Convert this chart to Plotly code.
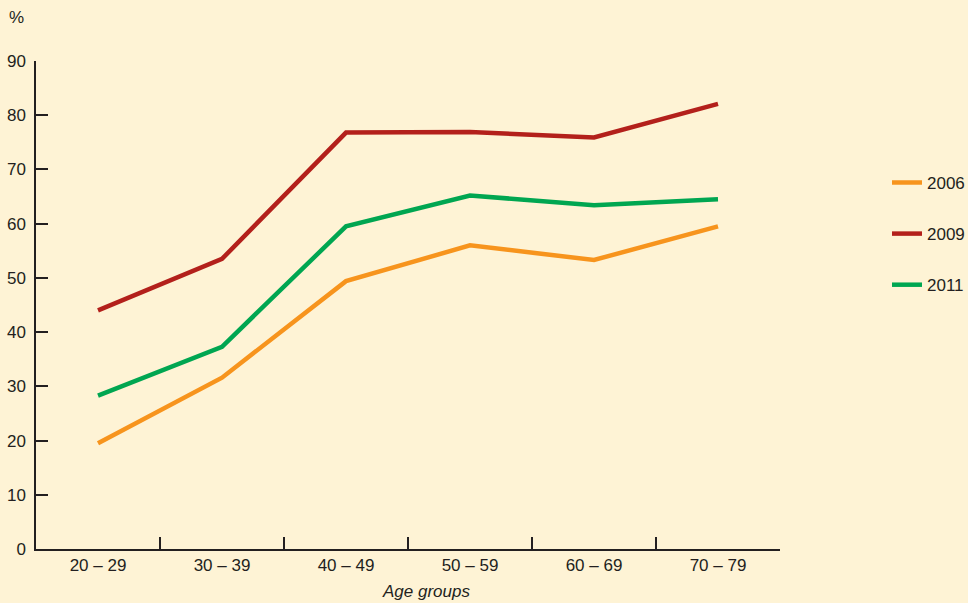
import plotly.graph_objects as go

age_groups = ["20 – 29", "30 – 39", "40 – 49", "50 – 59", "60 – 69", "70 – 79"]
share_2006 = [19.5, 31.6, 49.4, 56.0, 53.3, 59.5]
share_2009 = [44.0, 53.5, 76.8, 76.9, 75.9, 82.1]
share_2011 = [28.3, 37.3, 59.5, 65.2, 63.4, 64.5]

series = [
    ("2006", share_2006, "#F7941D"),
    ("2009", share_2009, "#B3201B"),
    ("2011", share_2011, "#00A651"),
]

FONT = "Liberation Sans, Arial, sans-serif"
INK = "#231F20"
BG = "#FEF3D5"
SIZE = 17

fig = go.Figure()
for i, (name, vals, color) in enumerate(series):
    fig.add_trace(go.Scatter(
        x=age_groups, y=vals, name=name, mode="lines",
        line=dict(color=color, width=4.5),
        legendgroup=f"g{i}",
    ))

fig.update_layout(
    width=968, height=603,
    paper_bgcolor=BG, plot_bgcolor=BG,
    margin=dict(l=36, r=188, t=61, b=54, autoexpand=False),
    font=dict(family=FONT, size=SIZE, color=INK),
    showlegend=True,
    legend=dict(
        x=1.1438, xanchor="left", y=0.787, yanchor="top",
        bgcolor="rgba(0,0,0,0)", tracegroupgap=26,
        font=dict(family=FONT, size=SIZE, color=INK),
    ),
    xaxis=dict(
        type="category", range=[-0.5, 5.5], automargin=False,
        showline=True, linecolor=INK, linewidth=1.5,
        ticks="inside", tickson="boundaries", ticklen=12,
        tickcolor=INK, tickwidth=1.5,
        showgrid=False, zeroline=False,
    ),
    yaxis=dict(
        range=[0, 90], dtick=10, tick0=0, automargin=False,
        showline=True, linecolor=INK, linewidth=1.5,
        ticks="inside", ticklen=12, tickcolor=INK, tickwidth=1.5,
        ticklabelstandoff=5,
        showgrid=False, zeroline=False,
    ),
    annotations=[
        dict(text="%", xref="paper", yref="paper", x=-0.026, y=1.089,
             xanchor="center", yanchor="middle", showarrow=False,
             font=dict(family=FONT, size=SIZE, color=INK)),
        dict(text="<i>Age groups</i>", xref="paper", yref="paper",
             x=0.524, y=0, xanchor="center", yanchor="top", yshift=-31,
             showarrow=False, font=dict(family=FONT, size=SIZE, color=INK)),
    ],
)

fig.write_html("out.html")
